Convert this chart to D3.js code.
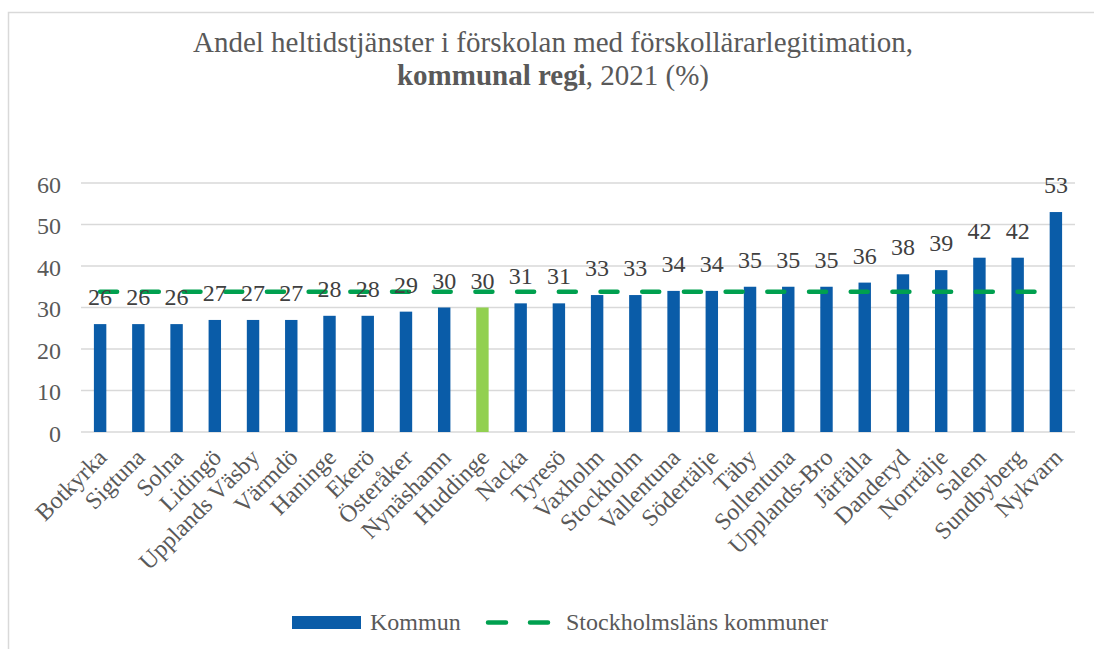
<!DOCTYPE html>
<html><head><meta charset="utf-8">
<script src="https://cdn.jsdelivr.net/npm/d3@7"></script>
<style>html,body{margin:0;padding:0;background:#fff;}svg{display:block;font-family:'Liberation Serif','Times New Roman',Times,serif;}svg text{font-family:'Liberation Serif','Times New Roman',Times,serif !important;}</style>
</head><body>
<svg id="chart" width="1094" height="649"></svg>
<script>
const categories = ["Botkyrka","Sigtuna","Solna","Lidingö","Upplands Väsby","Värmdö","Haninge","Ekerö","Österåker","Nynäshamn","Huddinge","Nacka","Tyresö","Vaxholm","Stockholm","Vallentuna","Södertälje","Täby","Sollentuna","Upplands-Bro","Järfälla","Danderyd","Norrtälje","Salem","Sundbyberg","Nykvarn"];
const kommunValues = [26,26,26,27,27,27,28,28,29,30,30,31,31,33,33,34,34,35,35,35,36,38,39,42,42,53];
const lanValue = 33.8;
const highlighted = ["Huddinge"];
const yTicks = [0,10,20,30,40,50,60];
const titleLine1 = "Andel heltidstjänster i förskolan med förskollärarlegitimation,";
const titleBold = "kommunal regi";
const titleRest = ", 2021 (%)";
const legendLabels = ["Kommun","Stockholmsläns kommuner"];

const svg = d3.select("#chart");
const FONT = "'Liberation Serif','Times New Roman',Times,serif";
const TXT = "#595959";
const BLUE = "#0a5ca8", LIGHTGREEN = "#92d050", DASHGREEN = "#00a04f", GRID = "#d9d9d9";

// outer border
svg.append("rect").attr("x",8.5).attr("y",12.5).attr("width",1100).attr("height",660)
  .attr("fill","none").attr("stroke",GRID).attr("stroke-width",1.5);

// title
const t = svg.append("text").attr("text-anchor","middle").attr("font-family",FONT)
  .attr("font-size",29).attr("fill",TXT);
t.append("tspan").attr("x",553).attr("y",52).text(titleLine1);
const t2 = t.append("tspan").attr("x",553).attr("y",85);
t2.append("tspan").attr("font-weight","bold").text(titleBold);
t2.append("tspan").text(titleRest);

const x = d3.scaleBand().domain(categories).range([81,1075]).paddingInner(0.675).paddingOuter(0.3375);
const y = d3.scaleLinear().domain([0,60]).range([432,183]);

// gridlines
svg.append("g").selectAll("line").data(yTicks).join("line")
  .attr("x1",81).attr("x2",1075).attr("y1",d=>y(d)).attr("y2",d=>y(d))
  .attr("stroke",GRID).attr("stroke-width",1.5);

// y axis labels
const yAxis = d3.axisLeft(y).tickValues(yTicks).tickSize(0).tickPadding(0);
const gy = svg.append("g").attr("transform","translate(61,0)").call(yAxis).attr("font-family",FONT);
gy.select(".domain").remove();
gy.selectAll("text").attr("font-family",FONT).attr("font-size",24).attr("fill",TXT).attr("dy","0.38em");

// bars
svg.append("g").selectAll("rect").data(categories).join("rect")
  .attr("x",d=>x(d)).attr("width",x.bandwidth())
  .attr("y",(d,i)=>y(kommunValues[i])).attr("height",(d,i)=>y(0)-y(kommunValues[i]))
  .attr("fill",d=>highlighted.includes(d)?LIGHTGREEN:BLUE);

// dashed line
const line = d3.line().x(d=>x(d)+x.bandwidth()/2).y(()=>y(lanValue));
svg.append("path").datum(categories).attr("d",line).attr("fill","none")
  .attr("stroke",DASHGREEN).attr("stroke-width",4.5).attr("stroke-linecap","round")
  .attr("stroke-dasharray","17 24.7");

// data labels
svg.append("g").selectAll("text").data(categories).join("text")
  .attr("x",d=>x(d)+x.bandwidth()/2).attr("y",(d,i)=>y(kommunValues[i])-19)
  .attr("text-anchor","middle").attr("font-family",FONT).attr("font-size",24).attr("fill","#404040")
  .text((d,i)=>kommunValues[i]);

// x axis labels
const xAxis = d3.axisBottom(x).tickSize(0).tickPadding(0);
const gx = svg.append("g").attr("transform","translate(0,432)").call(xAxis).attr("font-family",FONT);
gx.select(".domain").remove();
gx.selectAll("text").attr("font-family",FONT).attr("font-size",24).attr("fill",TXT)
  .attr("text-anchor","end").attr("dy",null).attr("y",null)
  .attr("transform","translate(8,27) rotate(-45)");

// legend
const lg = svg.append("g");
lg.append("rect").attr("x",292).attr("y",616).attr("width",69).attr("height",13).attr("fill",BLUE);
lg.append("text").attr("x",370).attr("y",630).attr("font-family",FONT).attr("font-size",24).attr("fill",TXT).text(legendLabels[0]);
lg.append("line").attr("x1",488).attr("x2",548).attr("y1",622.5).attr("y2",622.5)
  .attr("stroke",DASHGREEN).attr("stroke-width",4.5).attr("stroke-linecap","round").attr("stroke-dasharray","18 24");
lg.append("text").attr("x",566).attr("y",630).attr("font-family",FONT).attr("font-size",24).attr("fill",TXT).text(legendLabels[1]);
</script>
</body></html>
